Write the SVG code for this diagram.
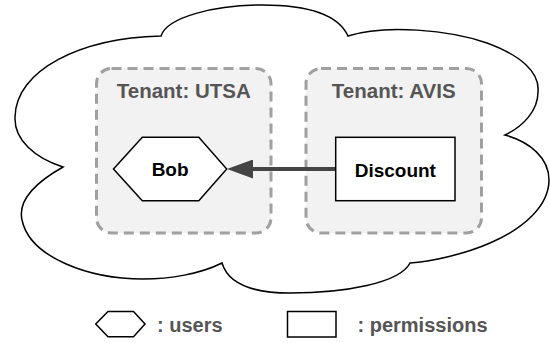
<svg xmlns="http://www.w3.org/2000/svg" width="550" height="343" viewBox="0 0 550 343">
<defs>
<style>
.cloud{fill:#fff;stroke:#000;stroke-width:1.5}
.tenant{fill:#f2f2f2;stroke:#a0a0a0;stroke-width:3;stroke-dasharray:10 6}
.title{font-family:"Liberation Sans",Arial,sans-serif;font-weight:bold;font-size:20.5px;fill:#555;text-anchor:middle}
.node{fill:#fff;stroke:#000;stroke-width:1.5}
.label{font-family:"Liberation Sans",Arial,sans-serif;font-weight:bold;font-size:19px;fill:#000;text-anchor:middle}
.legend{font-family:"Liberation Sans",Arial,sans-serif;font-weight:bold;font-size:20px;fill:#555}
.edge{fill:none;stroke:#444;stroke-width:4}
</style>
<marker id="arrow" markerUnits="userSpaceOnUse" markerWidth="26" markerHeight="19" refX="0" refY="9.5" orient="auto" viewBox="0 0 26 19">
<path d="M0,0 L26,9.5 L0,19 z" fill="#444"/>
</marker>
</defs>
<g id="cloud">
<path class="cloud" d="M161,36 C167,17 215,5 262,5 C305,5 338,14 348,36 C385,24 450,30 487,43 C520,55 540,72 538,92 C538,110 524,126 505,135 C530,142 549,158 549,180 C549,205 525,228 490,243 C465,254 430,262 410,263 C400,283 345,293 290,293 C250,293 228,283 222,263 C200,274 170,279 143,279 C90,279 30,258 22,220 C17,198 40,180 63,167 C35,158 14,140 15,117 C16,70 80,38 161,36 Z"/>
</g>
<g id="tenant-utsa">
<rect class="tenant" x="96.5" y="68.5" width="174.5" height="164.5" rx="15" ry="15"/>
<text class="title" x="183.75" y="98">Tenant: UTSA</text>
</g>
<g id="tenant-avis">
<rect class="tenant" x="306" y="68.5" width="175.5" height="164.5" rx="15" ry="15"/>
<text class="title" x="393.75" y="98">Tenant: AVIS</text>
</g>
<g id="connectors">
<path class="edge" d="M335.7,169 L253,169" marker-end="url(#arrow)"/>
</g>
<g id="bob">
<polygon class="node" points="113.5,169 142.3,137.3 198.8,137.3 226.7,169 198.8,200.7 142.3,200.7"/>
<text class="label" x="170.1" y="176">Bob</text>
</g>
<g id="discount">
<rect class="node" x="335.7" y="137.3" width="119.3" height="63.4"/>
<text class="label" x="395.3" y="176.5">Discount</text>
</g>
<g id="legend">
<polygon class="node" points="95.7,324 108,311.5 133.5,311.5 145,324 133.5,336.7 108,336.7"/>
<text class="legend" x="157" y="332">: users</text>
<rect class="node" x="287.5" y="311.5" width="48.5" height="25.5"/>
<text class="legend" x="357.5" y="332">: permissions</text>
</g>
</svg>
